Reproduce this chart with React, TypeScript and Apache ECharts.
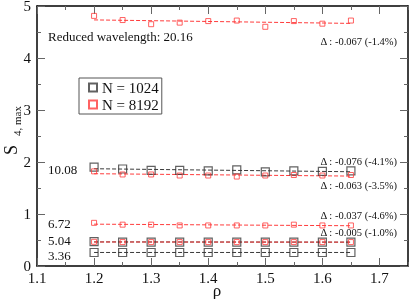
import React, { useEffect, useRef } from "react";
import * as echarts from "echarts";

const rho = [1.2, 1.25, 1.3, 1.35, 1.4, 1.45, 1.5, 1.55, 1.6, 1.65];

// N = 1024 (black squares)
const w336_N1024 = [0.26, 0.26, 0.26, 0.26, 0.26, 0.26, 0.26, 0.26, 0.26, 0.26];
const w504_N1024 = [0.47, 0.46, 0.46, 0.46, 0.46, 0.46, 0.46, 0.46, 0.46, 0.46];
const w1008_N1024 = [1.9, 1.865, 1.84, 1.84, 1.83, 1.85, 1.81, 1.83, 1.82, 1.83];

// N = 8192 (red squares)
const w504_N8192 = [0.465, 0.46, 0.46, 0.46, 0.46, 0.46, 0.46, 0.46, 0.46, 0.46];
const w672_N8192 = [0.83, 0.795, 0.795, 0.78, 0.78, 0.78, 0.78, 0.795, 0.78, 0.78];
const w1008_N8192 = [1.82, 1.76, 1.76, 1.74, 1.74, 1.72, 1.74, 1.75, 1.74, 1.75];
const w2016_N8192 = [4.81, 4.73, 4.65, 4.68, 4.71, 4.72, 4.6, 4.71, 4.66, 4.72];

const groupsN1024 = [w336_N1024, w504_N1024, w1008_N1024];
const groupsN8192 = [w504_N8192, w672_N8192, w1008_N8192, w2016_N8192];

const xMajorTicks = [1.1, 1.2, 1.3, 1.4, 1.5, 1.6, 1.7];
const xMinorTicks = [1.15, 1.25, 1.35, 1.45, 1.55, 1.65, 1.75];

const wavelengthLabels = ["10.08", "6.72", "5.04", "3.36"];
const titleLabel = "Reduced wavelength: 20.16";
const deltaLabels = [
  "Δ : -0.067 (-1.4%)",
  "Δ : -0.076 (-4.1%)",
  "Δ : -0.063 (-3.5%)",
  "Δ : -0.037 (-4.6%)",
  "Δ : -0.005 (-1.0%)",
];
const xTitle = "ρ";

const FONT = "Liberation Serif, Times New Roman, serif";
const BLACK = "#3a3a3a";
const RED = "#ff3b3b";

function fit(xs: number[], ys: number[]): [number, number][] {
  const n = xs.length;
  const mx = xs.reduce((a, b) => a + b, 0) / n;
  const my = ys.reduce((a, b) => a + b, 0) / n;
  let sxy = 0,
    sxx = 0;
  for (let i = 0; i < n; i++) {
    sxy += (xs[i] - mx) * (ys[i] - my);
    sxx += (xs[i] - mx) * (xs[i] - mx);
  }
  const b = sxy / sxx;
  const a = my - b * mx;
  const x0 = xs[0],
    x1 = xs[n - 1];
  return [
    [x0, a + b * x0],
    [x1, a + b * x1],
  ];
}

function pts(ys: number[]): [number, number][] {
  return ys.map((y, i) => [rho[i], y]);
}

export default function App() {
  const ref = useRef<HTMLDivElement>(null);
  useEffect(() => {
    if (!ref.current) return;
    const chart = echarts.init(ref.current, null, { renderer: "svg" });

    const fitSeries: any[] = [];
    groupsN1024.forEach((g) =>
      fitSeries.push({
        type: "line",
        data: fit(rho, g),
        symbol: "none",
        silent: true,
        z: 1,
        lineStyle: { color: BLACK, width: 1, type: [4, 2] },
      })
    );
    groupsN8192.forEach((g) =>
      fitSeries.push({
        type: "line",
        data: fit(rho, g),
        symbol: "none",
        silent: true,
        z: 1,
        lineStyle: { color: RED, width: 1, type: [4, 2] },
      })
    );

    const textStyle = (text: string, size: number, align: string) => ({
      text,
      font: `${size}px ${FONT}`,
      fill: "#111",
      textAlign: align,
      textVerticalAlign: "middle",
    });

    const deltaY = [41, 161, 185, 215, 232];
    const groupY = [169, 223, 240, 255];

    const minorTickAxis = (position: string) => ({
      type: "value",
      position,
      min: 1.1,
      max: 1.75,
      axisLine: { show: false },
      axisTick: {
        show: true,
        inside: true,
        length: 4,
        customValues: xMinorTicks,
        lineStyle: { color: "#666", width: 1 },
      },
      axisLabel: { show: false },
      splitLine: { show: false },
    });

    chart.setOption({
      animation: false,
      grid: { left: 37, right: 1, top: 6, bottom: 33, outerBoundsMode: "none", containLabel: false },
      xAxis: [
        {
          type: "value",
          position: "bottom",
          min: 1.1,
          max: 1.75,
          axisLine: { show: true, lineStyle: { color: "#000", width: 1.5 } },
          axisTick: {
            show: true,
            inside: true,
            length: 8,
            customValues: xMajorTicks,
            lineStyle: { color: "#666", width: 1 },
          },
          axisLabel: {
            customValues: xMajorTicks,
            formatter: (v: number) => v.toFixed(1),
            fontFamily: FONT,
            fontSize: 15,
            lineHeight: 14,
            color: "#111",
            margin: 5,
          },
          splitLine: { show: false },
        },
        minorTickAxis("bottom"),
        {
          type: "value",
          position: "top",
          min: 1.1,
          max: 1.75,
          axisLine: { show: true, lineStyle: { color: "#000", width: 1.5 } },
          axisTick: {
            show: true,
            inside: true,
            length: 8,
            customValues: xMajorTicks,
            lineStyle: { color: "#666", width: 1 },
          },
          axisLabel: { show: false },
          splitLine: { show: false },
        },
        minorTickAxis("top"),
      ],
      yAxis: [
        {
          type: "value",
          position: "left",
          min: 0,
          max: 5,
          interval: 1,
          axisLine: { show: true, lineStyle: { color: "#000", width: 1.5 } },
          axisTick: {
            show: true,
            inside: true,
            length: 8,
            lineStyle: { color: "#666", width: 1 },
          },
          minorTick: {
            show: true,
            splitNumber: 2,
            length: 4,
            lineStyle: { color: "#666", width: 1 },
          },
          axisLabel: {
            fontFamily: FONT,
            fontSize: 15,
            lineHeight: 12,
            color: "#111",
            margin: 6,
          },
          splitLine: { show: false },
        },
        {
          type: "value",
          position: "right",
          min: 0,
          max: 5,
          interval: 1,
          axisLine: { show: true, lineStyle: { color: "#000", width: 1.5 } },
          axisTick: {
            show: true,
            inside: true,
            length: 8,
            lineStyle: { color: "#666", width: 1 },
          },
          minorTick: {
            show: true,
            splitNumber: 2,
            length: 4,
            lineStyle: { color: "#666", width: 1 },
          },
          axisLabel: { show: false },
          splitLine: { show: false },
        },
      ],
      legend: {
        data: ["N = 1024", "N = 8192"],
        orient: "vertical",
        left: 79,
        top: 78,
        borderColor: "#555",
        borderWidth: 1,
        padding: [2, 3, 2, 9],
        itemGap: 2,
        itemWidth: 8,
        itemHeight: 8,
        itemTextGap: 9,
        textStyle: { fontFamily: FONT, fontSize: 15, color: "#111" },
      },
      series: [
        ...fitSeries,
        {
          name: "N = 1024",
          type: "scatter",
          data: groupsN1024.flatMap((g) => pts(g)),
          symbol: "rect",
          symbolSize: 8,
          z: 3,
          itemStyle: {
            color: "rgba(0,0,0,0)",
            borderColor: BLACK,
            borderWidth: 1.2,
          },
        },
        {
          name: "N = 8192",
          type: "scatter",
          data: groupsN8192.flatMap((g) => pts(g)),
          symbol: "rect",
          symbolSize: 5,
          z: 4,
          itemStyle: {
            color: "rgba(0,0,0,0)",
            borderColor: RED,
            borderWidth: 1,
          },
        },
      ],
      graphic: [
        { type: "text", x: 48, y: 36, style: textStyle(titleLabel, 13, "left") },
        ...wavelengthLabels.map((t, i) => ({
          type: "text",
          x: 48,
          y: groupY[i],
          style: textStyle(t, 13, "left"),
        })),
        ...deltaLabels.map((t, i) => ({
          type: "text",
          x: 397,
          y: deltaY[i],
          style: textStyle(t, 10.5, "right"),
        })),
        {
          type: "text",
          x: 217,
          y: 290,
          style: textStyle(xTitle, 17, "center"),
        },
        {
          type: "text",
          x: 11,
          y: 150,
          rotation: Math.PI / 2,
          style: textStyle("S", 18, "center"),
        },
        {
          type: "text",
          x: 17,
          y: 121,
          rotation: Math.PI / 2,
          style: textStyle("4, max", 11, "center"),
        },
      ],
    });
    return () => chart.dispose();
  }, []);
  return <div ref={ref} style={{ width: 409, height: 299, position: "fixed", left: 0, top: 0 }} />;
}
